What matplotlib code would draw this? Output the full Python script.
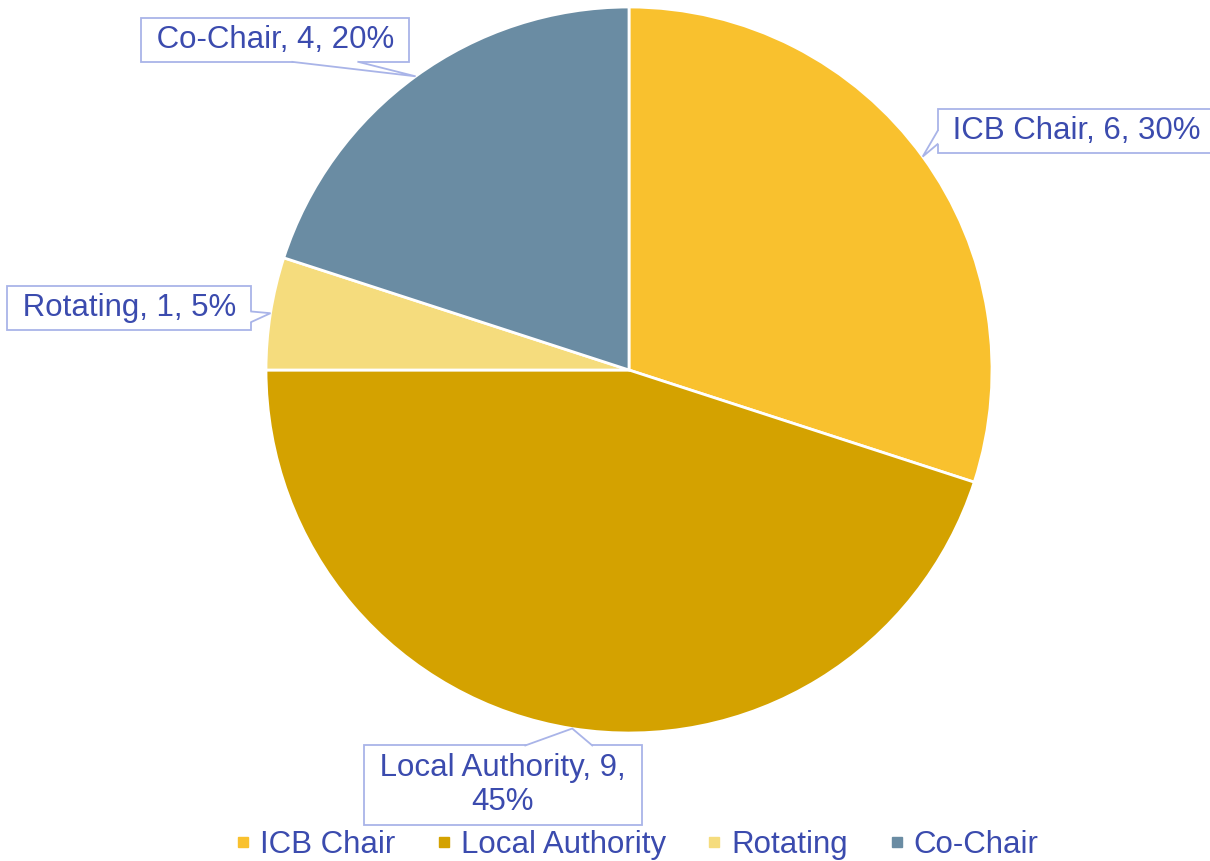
import numpy as np
import matplotlib
matplotlib.use("Agg")
import matplotlib.pyplot as plt
from matplotlib.lines import Line2D
from matplotlib.patches import Polygon

# chart data
categories = ["ICB Chair", "Local Authority", "Rotating", "Co-Chair"]
counts = [6, 9, 1, 4]
colors = ["#F9C12E", "#D4A200", "#F5DC7D", "#6A8CA3"]

text_color = "#3B4BAE"
box_edge = "#A9B4E8"

plt.rcParams["font.family"] = ["Liberation Sans", "DejaVu Sans"]

W, H = 1210, 861
fig = plt.figure(figsize=(W / 100, H / 100), dpi=100)
ax = fig.add_axes([0, 0, 1, 1])

cx, cy, r = 629, H - 370, 363
wedges, _ = ax.pie(counts, colors=colors, startangle=90, counterclock=False,
                   center=(cx, cy), radius=r, frame=True,
                   wedgeprops=dict(edgecolor="white", linewidth=2))
ax.set_xlim(0, W)
ax.set_ylim(0, H)
ax.axis("off")

total = sum(counts)
# label box centres (pixels, y from bottom) and where the callout leaves the box
label_pos = [(1077, H - 131), (503, H - 785), (129, H - 308), (275, H - 40)]
callout = [("left", 0.2, 0.5), ("top", 0.58, 0.82),
           ("right", 0.18, 0.42), ("bottom", 0.565, 0.81)]

texts, tips = [], []
for i, w in enumerate(wedges):
    pct = round(counts[i] / total * 100)
    if categories[i] == "Local Authority":
        txt = f" {categories[i]}, {counts[i]}, \n{pct}%"
        pad = 0.25
    else:
        txt = f" {categories[i]}, {counts[i]}, {pct}% "
        pad = 0.22
    ang = np.deg2rad((w.theta1 + w.theta2) / 2)
    tips.append((cx + r * np.cos(ang), cy + r * np.sin(ang)))
    t = ax.text(*label_pos[i], txt, ha="center", va="center", fontsize=22.5,
                color=text_color, linespacing=1.15, zorder=5,
                bbox=dict(boxstyle=f"square,pad={pad}", fc="white", ec=box_edge, lw=1.3))
    texts.append(t)

# draw the callout pointers from the box edges to the wedge midpoints
fig.canvas.draw()
rend = fig.canvas.get_renderer()
for t, tip, (side, f0, f1) in zip(texts, tips, callout):
    bb = t.get_bbox_patch().get_window_extent(rend)
    x0, x1, y0, y1 = bb.x0, bb.x1, bb.y0, bb.y1
    if side in ("top", "bottom"):
        yy = y1 if side == "top" else y0
        d = -2 if side == "top" else 2
        a = (x0 + f0 * (x1 - x0), yy)
        b = (x0 + f1 * (x1 - x0), yy)
        a_in, b_in = (a[0], yy + d), (b[0], yy + d)
    else:
        xx = x0 if side == "left" else x1
        d = 2 if side == "left" else -2
        a = (xx, y0 + f0 * (y1 - y0))
        b = (xx, y0 + f1 * (y1 - y0))
        a_in, b_in = (xx + d, a[1]), (xx + d, b[1])
    ax.add_patch(Polygon([a_in, a, tip, b, b_in], closed=True, fc="white",
                         ec="none", zorder=6))
    ax.plot([a[0], tip[0], b[0]], [a[1], tip[1], b[1]], color=box_edge,
            lw=1.3, zorder=7, solid_joinstyle="miter")

handles = [Line2D([], [], marker="s", linestyle="none", markersize=7,
                  markerfacecolor=c, markeredgecolor=c) for c in colors]
leg = ax.legend(handles, categories, loc="center", ncol=4, frameon=False,
                bbox_to_anchor=(636 / W, 1 - 845 / H), fontsize=22.5,
                handlelength=0.6, handletextpad=0.25, columnspacing=1.25,
                borderaxespad=0)
for t in leg.get_texts():
    t.set_color(text_color)

fig.savefig("out.png", dpi=100)
